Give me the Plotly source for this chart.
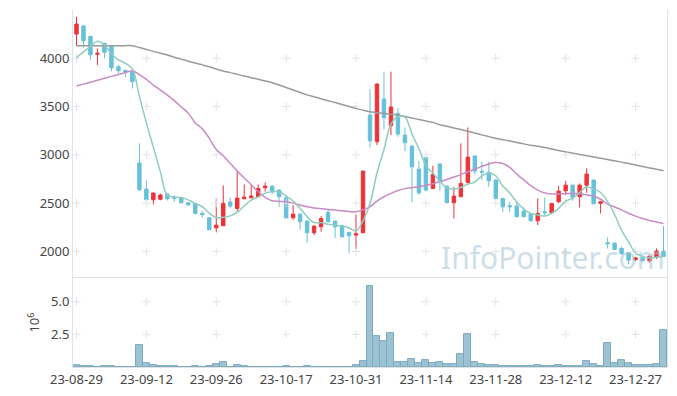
import plotly.graph_objects as go

dates = [
    "23-08-29", "23-08-30", "23-08-31",
    "23-09-01", "23-09-04", "23-09-05", "23-09-06", "23-09-07", "23-09-08", "23-09-11", "23-09-12",
    "23-09-13", "23-09-14", "23-09-15", "23-09-18", "23-09-19", "23-09-20", "23-09-21", "23-09-22",
    "23-09-25", "23-09-26", "23-09-27",
    "23-10-04", "23-10-05", "23-10-06", "23-10-10", "23-10-11", "23-10-12", "23-10-13", "23-10-16",
    "23-10-17", "23-10-18", "23-10-19", "23-10-20", "23-10-23", "23-10-24", "23-10-25", "23-10-26",
    "23-10-27", "23-10-30", "23-10-31",
    "23-11-01", "23-11-02", "23-11-03", "23-11-06", "23-11-07", "23-11-08", "23-11-09", "23-11-10",
    "23-11-13", "23-11-14", "23-11-15", "23-11-16", "23-11-17", "23-11-20", "23-11-21", "23-11-22",
    "23-11-23", "23-11-24", "23-11-27", "23-11-28", "23-11-29", "23-11-30",
    "23-12-01", "23-12-04", "23-12-05", "23-12-06", "23-12-07", "23-12-08", "23-12-11", "23-12-12",
    "23-12-13", "23-12-14", "23-12-15", "23-12-18", "23-12-19", "23-12-20", "23-12-21", "23-12-22",
    "23-12-26", "23-12-27", "23-12-28",
    "24-01-02", "24-01-03", "24-01-04",
]

open_ = [4249, 4332, 4225, 4040, 4153, 4125, 3911, 3873, 3860, 2914,
         2645, 2535, 2540, 2593, 2559, 2555, 2503, 2497, 2393, 2348,
         2244, 2266, 2511, 2445, 2545, 2555, 2566, 2659, 2676, 2635,
         2555, 2348, 2386, 2314, 2193, 2255, 2404, 2314, 2266, 2197,
         2169, 2193, 3411, 3135, 3577, 3301, 3428, 3204, 3090, 2852,
         2973, 2652, 2904, 2676, 2504, 2566, 2714, 2987, 2828, 2818,
         2738, 2548, 2473, 2469, 2417, 2386, 2317, 2410, 2400, 2514,
         2628, 2686, 2566, 2686, 2738, 2497, 2090, 2086, 2031, 1986,
         1917, 1934, 1903, 1938, 2003]
high = [4429, 4340, 4230, 4100, 4160, 4130, 3928, 3880, 3877, 3118,
        2738, 2611, 2600, 2598, 2583, 2566, 2510, 2503, 2420, 2350,
        2549, 2683, 2559, 2835, 2693, 2693, 2693, 2714, 2680, 2640,
        2583, 2480, 2390, 2320, 2270, 2366, 2435, 2320, 2270, 2200,
        2383, 2835, 3680, 3740, 3853, 3860, 3487, 3283, 3095, 2935,
        2980, 2887, 2918, 2680, 2669, 3118, 3283, 2995, 2928, 2928,
        2745, 2550, 2514, 2514, 2455, 2390, 2548, 2559, 2500, 2676,
        2731, 2690, 2704, 2859, 2745, 2520, 2145, 2090, 2052, 1990,
        1940, 1938, 1955, 2031, 2262]
low = [4129, 4108, 3977, 3930, 3997, 3866, 3842, 3808, 3687, 2628,
       2528, 2486, 2528, 2528, 2514, 2493, 2475, 2386, 2348, 2224,
       2197, 2262, 2445, 2410, 2540, 2550, 2560, 2618, 2593, 2462,
       2345, 2328, 2224, 2093, 2169, 2204, 2300, 2141, 2145, 1979,
       2021, 2190, 3076, 3100, 3263, 3204, 3187, 3038, 2507, 2583,
       2620, 2645, 2628, 2500, 2341, 2560, 2710, 2797, 2738, 2669,
       2538, 2410, 2410, 2355, 2355, 2310, 2273, 2376, 2395, 2500,
       2583, 2524, 2455, 2607, 2490, 2393, 2031, 2015, 1970, 1865,
       1900, 1895, 1883, 1921, 1945]
close = [4353, 4180, 4035, 4050, 4060, 3901, 3870, 3853, 3756, 2638,
         2535, 2604, 2583, 2545, 2549, 2504, 2482, 2393, 2380, 2224,
         2272, 2497, 2469, 2552, 2562, 2573, 2652, 2676, 2624, 2566,
         2348, 2386, 2307, 2193, 2262, 2341, 2307, 2255, 2152, 2162,
         2183, 2831, 3145, 3732, 3383, 3494, 3214, 3125, 2876, 2607,
         2635, 2797, 2728, 2504, 2573, 2704, 2976, 2831, 2820, 2731,
         2548, 2462, 2462, 2359, 2359, 2317, 2393, 2400, 2497, 2624,
         2686, 2555, 2686, 2800, 2493, 2514, 2080, 2021, 1976, 1910,
         1934, 1903, 1952, 2003, 1948]

ma5 = [4004, 4065, 4120, 4175, 4136, 4045, 3983, 3947, 3888, 3604,
       3330, 3077, 2823, 2581, 2563, 2557, 2533, 2495, 2462, 2397,
       2350, 2353, 2368, 2403, 2470, 2531, 2562, 2603, 2617, 2618,
       2573, 2520, 2446, 2360, 2299, 2298, 2282, 2272, 2263, 2243,
       2212, 2317, 2495, 2811, 3055, 3317, 3394, 3390, 3218, 3063,
       2891, 2808, 2729, 2654, 2647, 2661, 2697, 2718, 2781, 2812,
       2781, 2678, 2605, 2512, 2438, 2392, 2378, 2366, 2393, 2446,
       2520, 2552, 2610, 2670, 2644, 2610, 2515, 2382, 2217, 2100,
       1984, 1949, 1935, 1940, 1948]
ma20 = [3711, 3731, 3751, 3771, 3791, 3811, 3830, 3850, 3870, 3830,
        3780, 3721, 3670, 3618, 3560, 3495, 3430, 3330, 3270, 3170,
        3055, 2990, 2910, 2831, 2760, 2690, 2617, 2560, 2524, 2518,
        2514, 2500, 2480, 2462, 2450, 2442, 2435, 2428, 2420, 2412,
        2410, 2430, 2462, 2520, 2566, 2600, 2630, 2650, 2660, 2670,
        2685, 2700, 2720, 2745, 2770, 2795, 2825, 2850, 2880, 2905,
        2920, 2910, 2870, 2800, 2740, 2680, 2635, 2605, 2595, 2595,
        2598, 2600, 2598, 2585, 2570, 2540, 2490, 2460, 2430, 2395,
        2365, 2340, 2320, 2305, 2290]
ma60 = [4129, 4129, 4129, 4129, 4129, 4129, 4129, 4129, 4129, 4110,
        4090, 4070, 4050, 4032, 4010, 3990, 3968, 3950, 3930, 3910,
        3888, 3866, 3850, 3832, 3815, 3798, 3781, 3764, 3746, 3722,
        3696, 3670, 3644, 3620, 3600, 3580, 3560, 3540, 3520, 3500,
        3480, 3462, 3446, 3436, 3426, 3418, 3411, 3396, 3380, 3365,
        3350, 3335, 3311, 3295, 3278, 3261, 3244, 3226, 3206, 3188,
        3170, 3156, 3142, 3128, 3113, 3098, 3088, 3075, 3060, 3045,
        3030, 3017, 3004, 2991, 2978, 2965, 2951, 2938, 2924, 2909,
        2894, 2879, 2864, 2850, 2835]

volume_m = [0.13, 0.05, 0.05, 0.0, 0.05, 0.05, 0.0, 0.0, 0.0, 1.66,
            0.28, 0.13, 0.05, 0.05, 0.05, 0.0, 0.0, 0.05, 0.0, 0.05,
            0.2, 0.38, 0.0, 0.15, 0.05, 0.0, 0.0, 0.0, 0.0, 0.0,
            0.05, 0.0, 0.0, 0.05, 0.0, 0.0, 0.0, 0.0, 0.0, 0.0,
            0.13, 0.46, 6.2, 2.35, 1.99, 2.6, 0.38, 0.38, 0.61, 0.28,
            0.54, 0.28, 0.38, 0.2, 0.2, 0.97, 2.53, 0.38, 0.2, 0.13,
            0.13, 0.05, 0.05, 0.05, 0.05, 0.05, 0.13, 0.05, 0.05, 0.13,
            0.05, 0.05, 0.05, 0.46, 0.2, 0.05, 1.84, 0.31, 0.54, 0.31,
            0.13, 0.13, 0.13, 0.2, 2.81]

price_ticks = [2000, 2500, 3000, 3500, 4000]
vol_ticks = [2.5, 5.0]
vol_tick_labels = ["2.5", "5.0"]
tick_dates = dates[0:81:10]

grid_col = "#e4e4e4"
fig = go.Figure()

# crosshair grid marks
gx, gy = [], []
for d in tick_dates:
    for p in price_ticks:
        gx.append(d); gy.append(p)
vx, vy = [], []
for d in tick_dates:
    for v in vol_ticks:
        vx.append(d); vy.append(v)

fig.add_trace(go.Candlestick(
    x=dates, open=open_, high=high, low=low, close=close,
    increasing=dict(line=dict(color="#ee3338", width=1), fillcolor="#ee3338"),
    decreasing=dict(line=dict(color="#66c0d9", width=1), fillcolor="#66c0d9"),
    whiskerwidth=0, xaxis="x", yaxis="y", showlegend=False))

fig.add_trace(go.Scatter(x=gx, y=gy, mode="markers", xaxis="x", yaxis="y",
                         marker=dict(symbol="cross-thin", size=6, line=dict(color=grid_col, width=1)),
                         hoverinfo="skip", showlegend=False))
fig.add_trace(go.Scatter(x=vx, y=vy, mode="markers", xaxis="x", yaxis="y2",
                         marker=dict(symbol="cross-thin", size=6, line=dict(color=grid_col, width=1)),
                         hoverinfo="skip", showlegend=False))

fig.add_trace(go.Scatter(x=dates, y=ma60, mode="lines", line=dict(color="#9a9a9a", width=1.5, shape="spline"),
                         xaxis="x", yaxis="y", showlegend=False))
fig.add_trace(go.Scatter(x=dates, y=ma20, mode="lines", line=dict(color="#c98bc6", width=1.5, shape="spline"),
                         xaxis="x", yaxis="y", showlegend=False))
fig.add_trace(go.Scatter(x=dates, y=ma5, mode="lines", line=dict(color="#8fcdc0", width=1.5, shape="spline"),
                         xaxis="x", yaxis="y", showlegend=False))

fig.add_trace(go.Bar(x=dates, y=volume_m, xaxis="x", yaxis="y2",
                     marker=dict(color="#9dc3d3", line=dict(color="#7aaabf", width=1)),
                     showlegend=False))

tick_font = dict(family="Noto Sans, Open Sans, sans-serif", size=13, color="#444")
fig.update_layout(
    width=661, height=380,
    margin=dict(l=65, r=2, t=2, b=21, autoexpand=False),
    paper_bgcolor="white", plot_bgcolor="white",
    bargap=0,
    showlegend=False,
    xaxis=dict(type="category", categoryorder="array", categoryarray=dates,
               range=[-0.5, 84.5], anchor="y2", automargin=False,
               tickmode="array", tickvals=tick_dates, ticktext=tick_dates, tickangle=0,
               showgrid=False, rangeslider=dict(visible=False),
               showline=True, linecolor="#e2e2e2", mirror=True,
               ticks="", tickfont=tick_font, zeroline=False),
    yaxis=dict(domain=[0.249, 1], range=[1724, 4498], tickvals=price_ticks,
               ticktext=[str(v) for v in price_ticks], automargin=False,
               showgrid=False, zeroline=False, showline=True, linecolor="#e2e2e2",
               mirror=True, ticks="", tickfont=tick_font),
    yaxis2=dict(domain=[0, 0.249], range=[0, 6.81], tickvals=vol_ticks, ticktext=vol_tick_labels,
                automargin=False,
                showgrid=False, zeroline=False, showline=True, linecolor="#e2e2e2",
                mirror=True, ticks="", tickfont=tick_font,
                title=dict(text="10<sup>6</sup>", font=dict(family="Noto Sans, Open Sans, sans-serif", size=13, color="#444"),
                           standoff=8)),
    annotations=[dict(text="InfoPointer.com", xref="paper", yref="paper", x=1.0, y=0.308,
                      xanchor="right", yanchor="middle", showarrow=False,
                      font=dict(family="Noto Sans, Open Sans, sans-serif", size=30, color="rgba(160,195,212,0.55)"))],
)

fig.write_html("out.html")
